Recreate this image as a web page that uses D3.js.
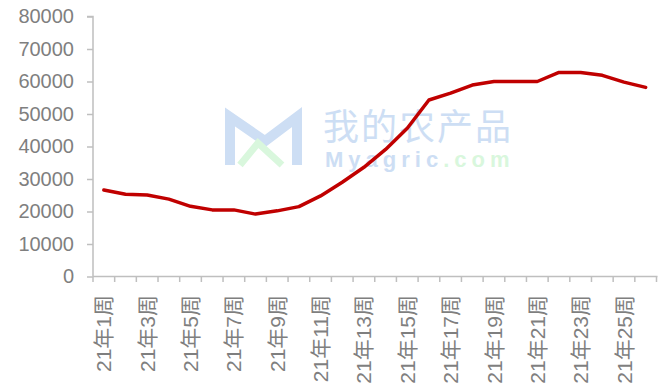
<!DOCTYPE html>
<html>
<head>
<meta charset="utf-8">
<script src="https://cdn.jsdelivr.net/npm/d3@7"></script>
<style>
  html, body { margin: 0; padding: 0; background: #ffffff; }
  svg { display: block; }
  text { font-family: "Liberation Sans", Arial, "Noto Sans CJK SC", sans-serif; }
</style>
</head>
<body>
<svg id="chart" width="663" height="389"></svg>
<script>
// ---- data ----
const weeks = ["21年1周","21年2周","21年3周","21年4周","21年5周","21年6周","21年7周","21年8周","21年9周","21年10周",
               "21年11周","21年12周","21年13周","21年14周","21年15周","21年16周","21年17周","21年18周","21年19周","21年20周",
               "21年21周","21年22周","21年23周","21年24周","21年25周","21年26周"];
const values = [26600, 25300, 25100, 23800, 21600, 20500, 20500, 19200, 20200, 21500,
                24800, 29000, 33600, 39100, 45600, 54300, 56400, 58900, 60000, 60000,
                60000, 62800, 62800, 61900, 59800, 58200];
const yTicks = [0, 10000, 20000, 30000, 40000, 50000, 60000, 70000, 80000];

// ---- layout ----
const svg = d3.select("#chart");
const mLeft = 93, mRight = 656.5, mTop = 16.5, mBottom = 276.5;
const axisColor = "#bfbfbf", textColor = "#7f7f7f";

const x = d3.scaleBand().domain(weeks).range([mLeft, mRight]).padding(0);
const y = d3.scaleLinear().domain([0, 80000]).range([mBottom, mTop]);

// ---- watermark ----
const wm = svg.append("g").attr("class", "watermark");
const blue = "#cddef4", green = "#d9f7dd";
wm.append("path")
  .attr("d", "M230,165 L230,117 L265,141 L297,117 L297,165")
  .attr("fill", "none").attr("stroke", blue).attr("stroke-width", 10)
  .attr("stroke-linejoin", "miter");
wm.append("path")
  .attr("d", "M240,165 L258,143 L282,165")
  .attr("fill", "none").attr("stroke", green).attr("stroke-width", 7);
const wt = wm.append("text").attr("x", 323).attr("y", 140);
wt.append("tspan").attr("x", 323).attr("y", 140)
  .attr("font-size", 36).attr("fill", blue).attr("letter-spacing", 2)
  .style("font-family", "'Noto Sans CJK SC', sans-serif")
  .text("我的农产品");
wt.append("tspan").attr("x", 325).attr("y", 167)
  .attr("font-size", 22).attr("font-weight", "bold").attr("fill", blue)
  .attr("letter-spacing", 5)
  .style("font-family", "'Liberation Sans', Arial, sans-serif")
  .text("Myagric");
wt.append("tspan")
  .attr("font-size", 22).attr("font-weight", "bold").attr("fill", green)
  .attr("letter-spacing", 5)
  .style("font-family", "'Liberation Sans', Arial, sans-serif")
  .text(".com");

// ---- y axis ----
const yAxis = d3.axisLeft(y).tickValues(yTicks).tickSize(6).tickPadding(13).tickFormat(d3.format("d"));
const gy = svg.append("g").attr("transform", `translate(${mLeft},0)`).call(yAxis);
gy.select(".domain").attr("stroke", axisColor).attr("stroke-width", 1.5)
  .attr("d", `M-6,${mTop}H0V${mBottom}`);
gy.selectAll(".tick line").attr("stroke", axisColor).attr("stroke-width", 1.5);
gy.selectAll(".tick text").attr("fill", textColor).attr("font-size", 20)
  .style("font-family", "'Liberation Sans', Arial, sans-serif");

// ---- x axis ----
const gx = svg.append("g").attr("transform", `translate(0,${mBottom})`);
gx.append("line").attr("x1", mLeft).attr("x2", mRight + 1).attr("y1", 0).attr("y2", 0)
  .attr("stroke", axisColor).attr("stroke-width", 1.5);
const boundaries = weeks.map(w => x(w)).concat([x(weeks[weeks.length - 1]) + x.bandwidth()]);
gx.selectAll("line.tk").data(boundaries).enter().append("line").attr("class", "tk")
  .attr("x1", d => d).attr("x2", d => d).attr("y1", 0).attr("y2", 5.5)
  .attr("stroke", axisColor).attr("stroke-width", 1.5);
gx.selectAll("text.lbl").data(weeks.filter((w, i) => i % 2 === 0)).enter().append("text")
  .attr("class", "lbl")
  .attr("transform", d => `translate(${x(d) + x.bandwidth() / 2},${295 - mBottom}) rotate(-90)`)
  .attr("text-anchor", "end").attr("dy", "0.36em")
  .attr("font-size", 21).attr("fill", textColor)
  .text(d => d);

// ---- line ----
const line = d3.line()
  .x((d, i) => x(weeks[i]) + x.bandwidth() / 2)
  .y(d => y(d));
svg.append("path").datum(values)
  .attr("d", line).attr("fill", "none")
  .attr("stroke", "#c00000").attr("stroke-width", 3.5)
  .attr("stroke-linejoin", "round").attr("stroke-linecap", "round");
</script>
</body>
</html>
